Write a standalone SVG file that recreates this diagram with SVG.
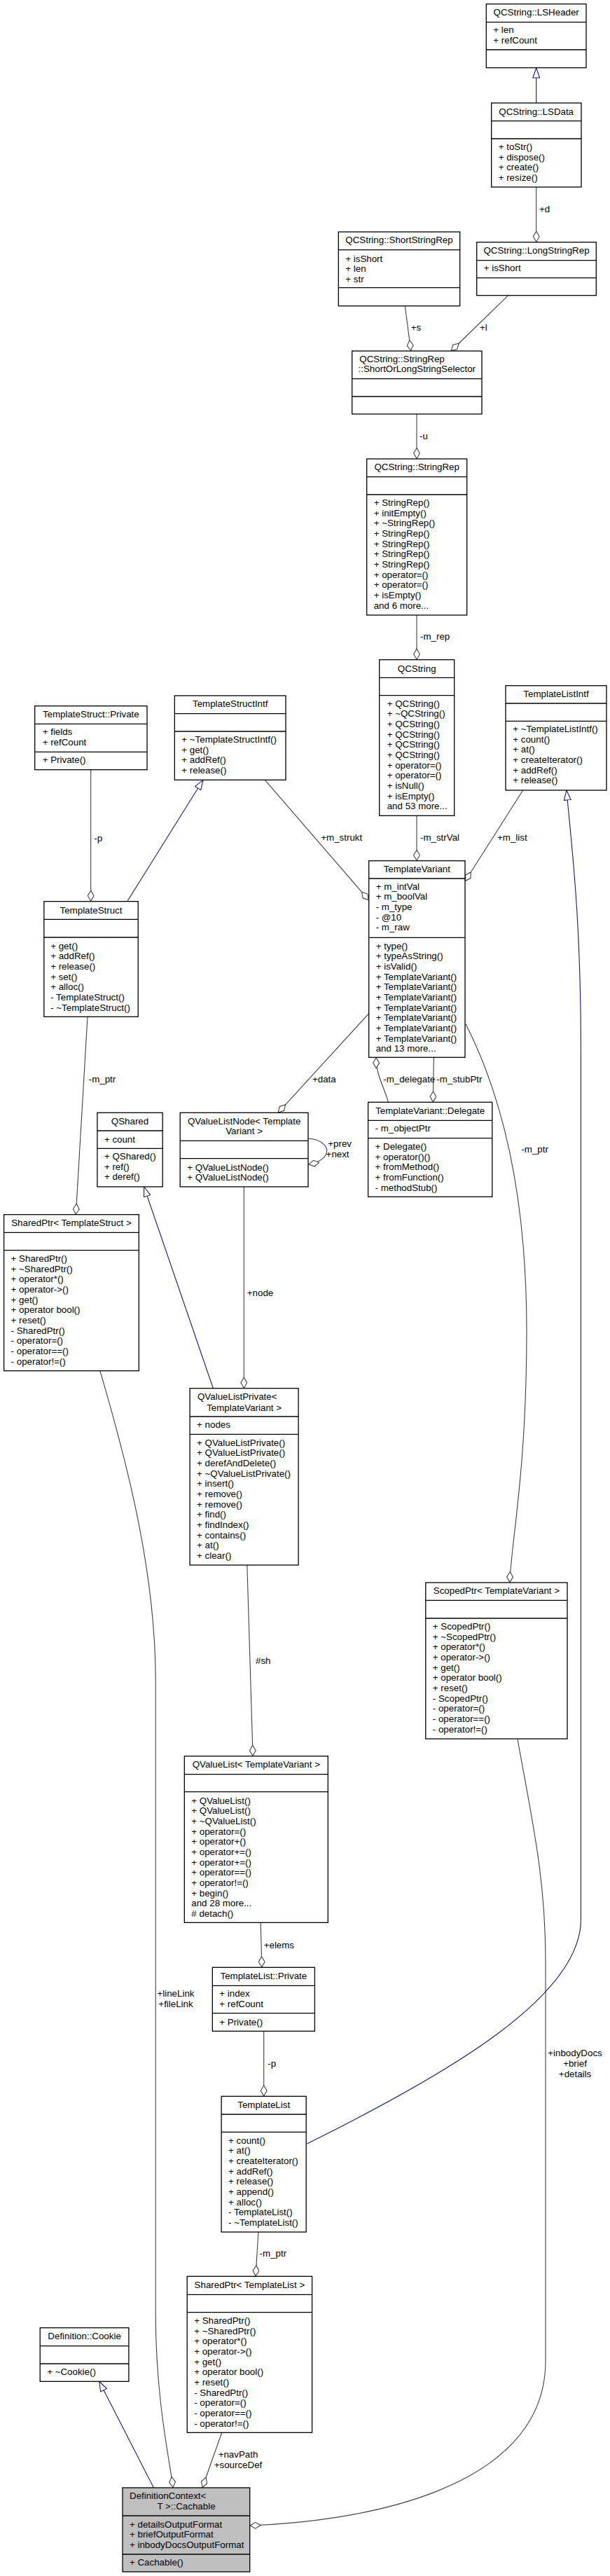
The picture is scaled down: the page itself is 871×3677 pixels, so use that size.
<svg xmlns="http://www.w3.org/2000/svg" width="871" height="3677" viewBox="0 0 871 3677">
<style>
.bx{fill:#fff;stroke:#000;stroke-width:1.3}
.gr{fill:#bfbfbf;stroke:#000;stroke-width:1.3}
.sp{stroke:#000;stroke-width:1.3}
text{font-family:"Liberation Sans",Arial,sans-serif;font-size:13.33px;fill:#000}
.c{text-anchor:middle}
.e{fill:none;stroke:#404040;stroke-width:1.1;marker-end:url(#dia)}
.i{fill:none;stroke:#191970;stroke-width:1.1;marker-end:url(#tri)}
</style>
<defs>
<marker id="dia" viewBox="0 0 16 10" refX="16" refY="5" markerWidth="16" markerHeight="10" markerUnits="userSpaceOnUse" orient="auto"><path d="M0.5,5 L8,0.6 L15.5,5 L8,9.4 Z" fill="#fff" stroke="#404040" stroke-width="1.1"/></marker>
<marker id="tri" viewBox="0 0 15 11" refX="14.5" refY="5.5" markerWidth="15" markerHeight="11" markerUnits="userSpaceOnUse" orient="auto"><path d="M0.5,0.6 L14.5,5.5 L0.5,10.4 Z" fill="#fff" stroke="#191970" stroke-width="1.1"/></marker>
</defs>

<g id="connectors">
<path class="i" d="M765.7,147 L765.7,97"/>
<path class="e" d="M765.7,267 L765.7,345.7"/>
<path class="e" d="M578.3,436.7 L586.7,501"/>
<path class="e" d="M725.7,421.7 L644,501"/>
<path class="e" d="M595,591 L595,655"/>
<path class="e" d="M595,878 L595,941.7"/>
<path class="e" d="M595,1164.3 L595,1228.7"/>
<path class="e" d="M746.7,1128 L664,1258"/>
<path class="e" d="M378.3,1113.3 L526.7,1285"/>
<path class="i" d="M181.7,1286.7 L290,1113.3"/>
<path class="e" d="M129.7,1098.7 L129.7,1286.7"/>
<path class="e" d="M125,1451.3 L108.3,1733.7"/>
<path class="e" d="M526.7,1446.7 L397,1588.3"/>
<path class="e" d="M554.4,1573.3 C548,1550 537,1535 537.2,1509.3"/>
<path class="e" d="M619.4,1509.3 L618.3,1573.3"/>
<path class="e" d="M665,1461.7 C715,1560 752,1700 752,1900 C752,2100 730,2200 727.8,2259"/>
<path class="e" d="M440,1625 C475,1628 476,1656 440.5,1662"/>
<path class="e" d="M348.3,1694 L348.3,1981.7"/>
<path class="i" d="M304.4,1981.7 L205.6,1694"/>
<path class="e" d="M352.8,2234 L361.1,2506.7"/>
<path class="e" d="M738.9,2482 C760,2600 779,2680 779,2800 L779,3370 C779,3560 500,3600 356.7,3605"/>
<path class="e" d="M372.2,2744.3 L373.9,2808.3"/>
<path class="e" d="M376.7,2899.3 L376.7,2992.3"/>
<path class="i" d="M438.3,3060 C640,2960 829.4,2850 829.4,2740 L829.4,1500 C829.4,1300 815,1200 809,1128"/>
<path class="e" d="M142.8,1956.7 C185,2100 222.2,2250 222.2,2400 L222.2,3300 C222.2,3420 240,3500 247.2,3551"/>
<path class="e" d="M316.7,3472.3 L288.9,3551"/>
<path class="i" d="M219.4,3551 L141.7,3399.3"/>
<path class="e" d="M368.9,3186 L365,3249.3"/>
<text x="770" y="302.5">+d</text>
<text x="586.7" y="472">+s</text>
<text x="685" y="471.5">+l</text>
<text x="599" y="627">-u</text>
<text x="600" y="913">-m_rep</text>
<text x="600" y="1200">-m_strVal</text>
<text x="458.3" y="1200">+m_strukt</text>
<text x="710" y="1200">+m_list</text>
<text x="134.3" y="1201">-p</text>
<text x="126.7" y="1545">-m_ptr</text>
<text x="446" y="1545">+data</text>
<text x="547.2" y="1545">-m_delegate</text>
<text x="623.3" y="1545">-m_stubPtr</text>
<text x="744.4" y="1645">-m_ptr</text>
<text x="468.3" y="1637">+prev</text>
<text x="465.6" y="1652">+next</text>
<text x="352.8" y="1849.5">+node</text>
<text x="365" y="2374.5">#sh</text>
<text class="c" x="251" y="2850">+lineLink</text>
<text class="c" x="251" y="2865">+fileLink</text>
<text x="376.7" y="2780.5">+elems</text>
<text x="382.2" y="2950">-p</text>
<text class="c" x="821" y="2935">+inbodyDocs</text>
<text class="c" x="821" y="2949.5">+brief</text>
<text class="c" x="821" y="2964.5">+details</text>
<text x="370.6" y="3221">-m_ptr</text>
<text class="c" x="340" y="3508">+navPath</text>
<text class="c" x="340" y="3522.5">+sourceDef</text>
</g>

<g id="LSHeader">
<rect class="bx" x="694.3" y="5.7" width="142.7" height="91"/>
<line class="sp" x1="694.3" y1="31.7" x2="837" y2="31.7"/>
<line class="sp" x1="694.3" y1="71" x2="837" y2="71"/>
<text class="c" x="765.7" y="22">QCString::LSHeader</text>
<text x="704.3" y="46.5">+ len</text>
<text x="704.3" y="61.5">+ refCount</text>
</g>

<g id="LSData">
<rect class="bx" x="701.7" y="147" width="128.3" height="120"/>
<line class="sp" x1="701.7" y1="172.7" x2="830" y2="172.7"/>
<line class="sp" x1="701.7" y1="198" x2="830" y2="198"/>
<text class="c" x="765.7" y="163.5">QCString::LSData</text>
<text x="711.7" y="214"><tspan x="711.7">+ toStr()</tspan><tspan x="711.7" dy="14.67">+ dispose()</tspan><tspan x="711.7" dy="14.67">+ create()</tspan><tspan x="711.7" dy="14.67">+ resize()</tspan></text>
</g>

<g id="ShortStringRep">
<rect class="bx" x="483.3" y="331" width="173.4" height="105.7"/>
<line class="sp" x1="483.3" y1="356.7" x2="656.7" y2="356.7"/>
<line class="sp" x1="483.3" y1="410.7" x2="656.7" y2="410.7"/>
<text class="c" x="570" y="347">QCString::ShortStringRep</text>
<text x="493.3" y="373.5"><tspan x="493.3">+ isShort</tspan><tspan x="493.3" dy="14.67">+ len</tspan><tspan x="493.3" dy="14.67">+ str</tspan></text>
</g>

<g id="LongStringRep">
<rect class="bx" x="680.7" y="345.7" width="170.6" height="76"/>
<line class="sp" x1="680.7" y1="371.7" x2="851.3" y2="371.7"/>
<line class="sp" x1="680.7" y1="396.7" x2="851.3" y2="396.7"/>
<text class="c" x="766" y="362">QCString::LongStringRep</text>
<text x="690.7" y="387">+ isShort</text>
</g>

<g id="ShortOrLongStringSelector">
<rect class="bx" x="502.7" y="501" width="185.3" height="90"/>
<line class="sp" x1="502.7" y1="540.7" x2="688" y2="540.7"/>
<line class="sp" x1="502.7" y1="566" x2="688" y2="566"/>
<text x="513.3" y="517">QCString::StringRep</text>
<text class="c" x="595.3" y="531">::ShortOrLongStringSelector</text>
</g>

<g id="StringRep">
<rect class="bx" x="523.7" y="655" width="143" height="223"/>
<line class="sp" x1="523.7" y1="680.7" x2="666.7" y2="680.7"/>
<line class="sp" x1="523.7" y1="706" x2="666.7" y2="706"/>
<text class="c" x="595.2" y="671">QCString::StringRep</text>
<text x="533.7" y="722"><tspan x="533.7">+ StringRep()</tspan><tspan x="533.7" dy="14.67">+ initEmpty()</tspan><tspan x="533.7" dy="14.67">+ ~StringRep()</tspan><tspan x="533.7" dy="14.67">+ StringRep()</tspan><tspan x="533.7" dy="14.67">+ StringRep()</tspan><tspan x="533.7" dy="14.67">+ StringRep()</tspan><tspan x="533.7" dy="14.67">+ StringRep()</tspan><tspan x="533.7" dy="14.67">+ operator=()</tspan><tspan x="533.7" dy="14.67">+ operator=()</tspan><tspan x="533.7" dy="14.67">+ isEmpty()</tspan><tspan x="533.7" dy="14.67">and 6 more...</tspan></text>
</g>

<g id="QCString">
<rect class="bx" x="541.7" y="941.7" width="107" height="222.6"/>
<line class="sp" x1="541.7" y1="967.3" x2="648.7" y2="967.3"/>
<line class="sp" x1="541.7" y1="992.7" x2="648.7" y2="992.7"/>
<text class="c" x="595.2" y="958.5">QCString</text>
<text x="552.7" y="1008.5"><tspan x="552.7">+ QCString()</tspan><tspan x="552.7" dy="14.67">+ ~QCString()</tspan><tspan x="552.7" dy="14.67">+ QCString()</tspan><tspan x="552.7" dy="14.67">+ QCString()</tspan><tspan x="552.7" dy="14.67">+ QCString()</tspan><tspan x="552.7" dy="14.67">+ QCString()</tspan><tspan x="552.7" dy="14.67">+ operator=()</tspan><tspan x="552.7" dy="14.67">+ operator=()</tspan><tspan x="552.7" dy="14.67">+ isNull()</tspan><tspan x="552.7" dy="14.67">+ isEmpty()</tspan><tspan x="552.7" dy="14.67">and 53 more...</tspan></text>
</g>

<g id="TemplateListIntf">
<rect class="bx" x="722" y="978.7" width="144" height="149.3"/>
<line class="sp" x1="722" y1="1004" x2="866" y2="1004"/>
<line class="sp" x1="722" y1="1029.3" x2="866" y2="1029.3"/>
<text class="c" x="794" y="995">TemplateListIntf</text>
<text x="732.3" y="1045"><tspan x="732.3">+ ~TemplateListIntf()</tspan><tspan x="732.3" dy="14.67">+ count()</tspan><tspan x="732.3" dy="14.67">+ at()</tspan><tspan x="732.3" dy="14.67">+ createIterator()</tspan><tspan x="732.3" dy="14.67">+ addRef()</tspan><tspan x="732.3" dy="14.67">+ release()</tspan></text>
</g>

<g id="TemplateStructPrivate">
<rect class="bx" x="49.7" y="1007.7" width="160.3" height="91"/>
<line class="sp" x1="49.7" y1="1033.3" x2="210" y2="1033.3"/>
<line class="sp" x1="49.7" y1="1073.3" x2="210" y2="1073.3"/>
<text class="c" x="129.8" y="1024">TemplateStruct::Private</text>
<text x="60.7" y="1049"><tspan x="60.7">+ fields</tspan><tspan x="60.7" dy="14.67">+ refCount</tspan></text>
<text x="60.7" y="1089">+ Private()</text>
</g>

<g id="TemplateStructIntf">
<rect class="bx" x="249.3" y="993" width="158.7" height="120.3"/>
<line class="sp" x1="249.3" y1="1018.7" x2="408" y2="1018.7"/>
<line class="sp" x1="249.3" y1="1044" x2="408" y2="1044"/>
<text class="c" x="328.7" y="1009">TemplateStructIntf</text>
<text x="259.3" y="1060"><tspan x="259.3">+ ~TemplateStructIntf()</tspan><tspan x="259.3" dy="14.67">+ get()</tspan><tspan x="259.3" dy="14.67">+ addRef()</tspan><tspan x="259.3" dy="14.67">+ release()</tspan></text>
</g>

<g id="TemplateStruct">
<rect class="bx" x="62.8" y="1286.7" width="134.4" height="164.6"/>
<line class="sp" x1="62.8" y1="1312.3" x2="197.2" y2="1312.3"/>
<line class="sp" x1="62.8" y1="1338" x2="197.2" y2="1338"/>
<text class="c" x="130" y="1303.5">TemplateStruct</text>
<text x="72.2" y="1354.5"><tspan x="72.2">+ get()</tspan><tspan x="72.2" dy="14.67">+ addRef()</tspan><tspan x="72.2" dy="14.67">+ release()</tspan><tspan x="72.2" dy="14.67">+ set()</tspan><tspan x="72.2" dy="14.67">+ alloc()</tspan><tspan x="72.2" dy="14.67">- TemplateStruct()</tspan><tspan x="72.2" dy="14.67">- ~TemplateStruct()</tspan></text>
</g>

<g id="TemplateVariant">
<rect class="bx" x="526.7" y="1228.7" width="137.3" height="280.6"/>
<line class="sp" x1="526.7" y1="1254" x2="664" y2="1254"/>
<line class="sp" x1="526.7" y1="1338.3" x2="664" y2="1338.3"/>
<text class="c" x="595.3" y="1245">TemplateVariant</text>
<text x="536.7" y="1269.8"><tspan x="536.7">+ m_intVal</tspan><tspan x="536.7" dy="14.67">+ m_boolVal</tspan><tspan x="536.7" dy="14.67">- m_type</tspan><tspan x="536.7" dy="14.67">- @10</tspan><tspan x="536.7" dy="14.67">- m_raw</tspan></text>
<text x="536.7" y="1354.5"><tspan x="536.7">+ type()</tspan><tspan x="536.7" dy="14.67">+ typeAsString()</tspan><tspan x="536.7" dy="14.67">+ isValid()</tspan><tspan x="536.7" dy="14.67">+ TemplateVariant()</tspan><tspan x="536.7" dy="14.67">+ TemplateVariant()</tspan><tspan x="536.7" dy="14.67">+ TemplateVariant()</tspan><tspan x="536.7" dy="14.67">+ TemplateVariant()</tspan><tspan x="536.7" dy="14.67">+ TemplateVariant()</tspan><tspan x="536.7" dy="14.67">+ TemplateVariant()</tspan><tspan x="536.7" dy="14.67">+ TemplateVariant()</tspan><tspan x="536.7" dy="14.67">and 13 more...</tspan></text>
</g>

<g id="QShared">
<rect class="bx" x="138.9" y="1588.3" width="93.3" height="105.7"/>
<line class="sp" x1="138.9" y1="1614" x2="232.2" y2="1614"/>
<line class="sp" x1="138.9" y1="1639.3" x2="232.2" y2="1639.3"/>
<text class="c" x="185.5" y="1605">QShared</text>
<text x="148.9" y="1630.5">+ count</text>
<text x="148.9" y="1655"><tspan x="148.9">+ QShared()</tspan><tspan x="148.9" dy="14.67">+ ref()</tspan><tspan x="148.9" dy="14.67">+ deref()</tspan></text>
</g>

<g id="QValueListNode">
<rect class="bx" x="257.2" y="1588.3" width="182.8" height="105.7"/>
<line class="sp" x1="257.2" y1="1628.3" x2="440" y2="1628.3"/>
<line class="sp" x1="257.2" y1="1653.7" x2="440" y2="1653.7"/>
<text x="268" y="1605">QValueListNode&lt; Template</text>
<text class="c" x="348.6" y="1619">Variant &gt;</text>
<text x="267.2" y="1670.5"><tspan x="267.2">+ QValueListNode()</tspan><tspan x="267.2" dy="14.67">+ QValueListNode()</tspan></text>
</g>

<g id="Delegate">
<rect class="bx" x="525.6" y="1573.3" width="177.2" height="135"/>
<line class="sp" x1="525.6" y1="1599.3" x2="702.8" y2="1599.3"/>
<line class="sp" x1="525.6" y1="1624.7" x2="702.8" y2="1624.7"/>
<text class="c" x="614.2" y="1590">TemplateVariant::Delegate</text>
<text x="535.6" y="1615">- m_objectPtr</text>
<text x="535.6" y="1641"><tspan x="535.6">+ Delegate()</tspan><tspan x="535.6" dy="14.67">+ operator()()</tspan><tspan x="535.6" dy="14.67">+ fromMethod()</tspan><tspan x="535.6" dy="14.67">+ fromFunction()</tspan><tspan x="535.6" dy="14.67">- methodStub()</tspan></text>
</g>

<g id="SharedPtrTemplateStruct">
<rect class="bx" x="5.6" y="1733.7" width="192.7" height="223"/>
<line class="sp" x1="5.6" y1="1759.3" x2="198.3" y2="1759.3"/>
<line class="sp" x1="5.6" y1="1784.7" x2="198.3" y2="1784.7"/>
<text class="c" x="102" y="1750">SharedPtr&lt; TemplateStruct &gt;</text>
<text x="15.6" y="1801"><tspan x="15.6">+ SharedPtr()</tspan><tspan x="15.6" dy="14.67">+ ~SharedPtr()</tspan><tspan x="15.6" dy="14.67">+ operator*()</tspan><tspan x="15.6" dy="14.67">+ operator-&gt;()</tspan><tspan x="15.6" dy="14.67">+ get()</tspan><tspan x="15.6" dy="14.67">+ operator bool()</tspan><tspan x="15.6" dy="14.67">+ reset()</tspan><tspan x="15.6" dy="14.67">- SharedPtr()</tspan><tspan x="15.6" dy="14.67">- operator=()</tspan><tspan x="15.6" dy="14.67">- operator==()</tspan><tspan x="15.6" dy="14.67">- operator!=()</tspan></text>
</g>

<g id="QValueListPrivate">
<rect class="bx" x="271.1" y="1981.7" width="155" height="252.3"/>
<line class="sp" x1="271.1" y1="2022" x2="426.1" y2="2022"/>
<line class="sp" x1="271.1" y1="2047.3" x2="426.1" y2="2047.3"/>
<text x="282" y="1998">QValueListPrivate&lt;</text>
<text class="c" x="348.6" y="2013.5">TemplateVariant &gt;</text>
<text x="281.1" y="2038">+ nodes</text>
<text x="281.1" y="2063.5"><tspan x="281.1">+ QValueListPrivate()</tspan><tspan x="281.1" dy="14.67">+ QValueListPrivate()</tspan><tspan x="281.1" dy="14.67">+ derefAndDelete()</tspan><tspan x="281.1" dy="14.67">+ ~QValueListPrivate()</tspan><tspan x="281.1" dy="14.67">+ insert()</tspan><tspan x="281.1" dy="14.67">+ remove()</tspan><tspan x="281.1" dy="14.67">+ remove()</tspan><tspan x="281.1" dy="14.67">+ find()</tspan><tspan x="281.1" dy="14.67">+ findIndex()</tspan><tspan x="281.1" dy="14.67">+ contains()</tspan><tspan x="281.1" dy="14.67">+ at()</tspan><tspan x="281.1" dy="14.67">+ clear()</tspan></text>
</g>

<g id="ScopedPtrTemplateVariant">
<rect class="bx" x="607.8" y="2259" width="202.2" height="223"/>
<line class="sp" x1="607.8" y1="2284.3" x2="810" y2="2284.3"/>
<line class="sp" x1="607.8" y1="2310" x2="810" y2="2310"/>
<text class="c" x="708.9" y="2275">ScopedPtr&lt; TemplateVariant &gt;</text>
<text x="617.8" y="2326"><tspan x="617.8">+ ScopedPtr()</tspan><tspan x="617.8" dy="14.67">+ ~ScopedPtr()</tspan><tspan x="617.8" dy="14.67">+ operator*()</tspan><tspan x="617.8" dy="14.67">+ operator-&gt;()</tspan><tspan x="617.8" dy="14.67">+ get()</tspan><tspan x="617.8" dy="14.67">+ operator bool()</tspan><tspan x="617.8" dy="14.67">+ reset()</tspan><tspan x="617.8" dy="14.67">- ScopedPtr()</tspan><tspan x="617.8" dy="14.67">- operator=()</tspan><tspan x="617.8" dy="14.67">- operator==()</tspan><tspan x="617.8" dy="14.67">- operator!=()</tspan></text>
</g>

<g id="QValueList">
<rect class="bx" x="263.3" y="2506.7" width="205" height="237.6"/>
<line class="sp" x1="263.3" y1="2532.7" x2="468.3" y2="2532.7"/>
<line class="sp" x1="263.3" y1="2557.7" x2="468.3" y2="2557.7"/>
<text class="c" x="365.8" y="2523">QValueList&lt; TemplateVariant &gt;</text>
<text x="273.3" y="2574.5"><tspan x="273.3">+ QValueList()</tspan><tspan x="273.3" dy="14.67">+ QValueList()</tspan><tspan x="273.3" dy="14.67">+ ~QValueList()</tspan><tspan x="273.3" dy="14.67">+ operator=()</tspan><tspan x="273.3" dy="14.67">+ operator+()</tspan><tspan x="273.3" dy="14.67">+ operator+=()</tspan><tspan x="273.3" dy="14.67">+ operator+=()</tspan><tspan x="273.3" dy="14.67">+ operator==()</tspan><tspan x="273.3" dy="14.67">+ operator!=()</tspan><tspan x="273.3" dy="14.67">+ begin()</tspan><tspan x="273.3" dy="14.67">and 28 more...</tspan><tspan x="273.3" dy="14.67"># detach()</tspan></text>
</g>

<g id="TemplateListPrivate">
<rect class="bx" x="303.3" y="2808.3" width="146.1" height="91"/>
<line class="sp" x1="303.3" y1="2834.3" x2="449.4" y2="2834.3"/>
<line class="sp" x1="303.3" y1="2873.7" x2="449.4" y2="2873.7"/>
<text class="c" x="376.4" y="2825">TemplateList::Private</text>
<text x="313.3" y="2850"><tspan x="313.3">+ index</tspan><tspan x="313.3" dy="14.67">+ refCount</tspan></text>
<text x="313.3" y="2890.5">+ Private()</text>
</g>

<g id="TemplateList">
<rect class="bx" x="316.1" y="2992.3" width="121.1" height="193.7"/>
<line class="sp" x1="316.1" y1="3018" x2="437.2" y2="3018"/>
<line class="sp" x1="316.1" y1="3043.3" x2="437.2" y2="3043.3"/>
<text class="c" x="376.7" y="3009">TemplateList</text>
<text x="326.1" y="3059.5"><tspan x="326.1">+ count()</tspan><tspan x="326.1" dy="14.67">+ at()</tspan><tspan x="326.1" dy="14.67">+ createIterator()</tspan><tspan x="326.1" dy="14.67">+ addRef()</tspan><tspan x="326.1" dy="14.67">+ release()</tspan><tspan x="326.1" dy="14.67">+ append()</tspan><tspan x="326.1" dy="14.67">+ alloc()</tspan><tspan x="326.1" dy="14.67">- TemplateList()</tspan><tspan x="326.1" dy="14.67">- ~TemplateList()</tspan></text>
</g>

<g id="SharedPtrTemplateList">
<rect class="bx" x="267.2" y="3249.3" width="178.4" height="223"/>
<line class="sp" x1="267.2" y1="3275.3" x2="445.6" y2="3275.3"/>
<line class="sp" x1="267.2" y1="3300.7" x2="445.6" y2="3300.7"/>
<text class="c" x="356.4" y="3266">SharedPtr&lt; TemplateList &gt;</text>
<text x="277.2" y="3317"><tspan x="277.2">+ SharedPtr()</tspan><tspan x="277.2" dy="14.67">+ ~SharedPtr()</tspan><tspan x="277.2" dy="14.67">+ operator*()</tspan><tspan x="277.2" dy="14.67">+ operator-&gt;()</tspan><tspan x="277.2" dy="14.67">+ get()</tspan><tspan x="277.2" dy="14.67">+ operator bool()</tspan><tspan x="277.2" dy="14.67">+ reset()</tspan><tspan x="277.2" dy="14.67">- SharedPtr()</tspan><tspan x="277.2" dy="14.67">- operator=()</tspan><tspan x="277.2" dy="14.67">- operator==()</tspan><tspan x="277.2" dy="14.67">- operator!=()</tspan></text>
</g>

<g id="Cookie">
<rect class="bx" x="57.2" y="3322.7" width="126.7" height="76.6"/>
<line class="sp" x1="57.2" y1="3348.7" x2="183.9" y2="3348.7"/>
<line class="sp" x1="57.2" y1="3374" x2="183.9" y2="3374"/>
<text class="c" x="120.6" y="3339">Definition::Cookie</text>
<text x="67.2" y="3390">+ ~Cookie()</text>
</g>

<g id="Cachable">
<rect class="gr" x="175" y="3551" width="181.7" height="120"/>
<line class="sp" x1="175" y1="3591" x2="356.7" y2="3591"/>
<line class="sp" x1="175" y1="3646" x2="356.7" y2="3646"/>
<text x="185" y="3567">DefinitionContext&lt;</text>
<text class="c" x="266" y="3581.5">T &gt;::Cachable</text>
<text x="185" y="3607.5"><tspan x="185">+ detailsOutputFormat</tspan><tspan x="185" dy="14.67">+ briefOutputFormat</tspan><tspan x="185" dy="14.67">+ inbodyDocsOutputFormat</tspan></text>
<text x="185" y="3662">+ Cachable()</text>
</g>
</svg>
